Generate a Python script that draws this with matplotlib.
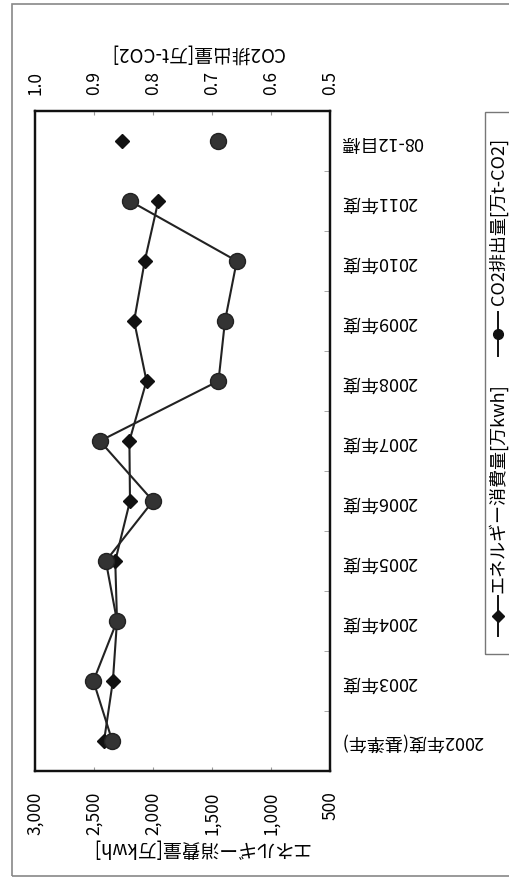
import numpy as np
import matplotlib
matplotlib.use('Agg')
import matplotlib.pyplot as plt
from matplotlib.lines import Line2D
from matplotlib.patches import Rectangle
from matplotlib.ticker import FuncFormatter, FixedLocator

plt.rcParams['font.family'] = ['Noto Sans CJK JP', 'DejaVu Sans']

# data
categories = ['2002年度(基準年)', '2003年度', '2004年度', '2005年度', '2006年度',
              '2007年度', '2008年度', '2009年度', '2010年度', '2011年度', '08-12目標']
energy = [2415, 2340, 2305, 2320, 2195, 2200, 2055, 2160, 2070, 1955, 2265]   # 万kwh
co2 = [0.869, 0.901, 0.861, 0.880, 0.800, 0.890, 0.689, 0.678, 0.658, 0.839, 0.689]  # 万t-CO2

energy_label = 'エネルギー消費量[万kwh]'
co2_label = 'CO2排出量[万t-CO2]'

W, H = 510, 879
fig = plt.figure(figsize=(W / 100, H / 100), dpi=100)

# helpers: pixel -> figure fraction
def fx(px):
    return px / W

def fy(py):
    return 1 - py / H

# the chart is a scan turned on its side, so categories run up the page
ax = fig.add_axes([fx(35), fy(772), fx(330) - fx(35), fy(112) - fy(772)])
ypos = np.arange(len(categories))
n = len(categories) - 1   # last one is the target, drawn without a line

ax.plot(energy[:n], ypos[:n], color='#222222', lw=1.5, marker='D', ms=7,
        mfc='#111111', mec='#111111', zorder=3)
ax.plot(energy[n:], ypos[n:], ls='none', marker='D', ms=7.5,
        mfc='#111111', mec='#111111', zorder=3)

ax2 = ax.twiny()
ax2.plot(co2[:n], ypos[:n], color='#222222', lw=1.5, marker='o', ms=11.5,
         mfc='#333333', mec='#222222', zorder=3)
ax2.plot(co2[n:], ypos[n:], ls='none', marker='o', ms=11.5,
         mfc='#333333', mec='#222222', zorder=3)

ax.set_xlim(3000, 500)
ax2.set_xlim(1.0, 0.5)
ax.set_ylim(-0.5, len(categories) - 0.5)

ax.set_xticks([3000, 2500, 2000, 1500, 1000, 500])
ax.xaxis.set_major_formatter(FuncFormatter(lambda v, p: '{:,.0f}'.format(v)))
ax2.set_xticks([1.0, 0.9, 0.8, 0.7, 0.6, 0.5])
ax2.xaxis.set_major_formatter(FuncFormatter(lambda v, p: '{:.1f}'.format(v)))

ax.tick_params(axis='x', direction='in', length=3, color='#999999', pad=14,
               labelsize=12.5, labelrotation=90)
for t in ax.get_xticklabels():
    t.set_va('top')
ax2.tick_params(axis='x', direction='in', length=3, color='#999999', pad=12,
                labelsize=12.5, labelrotation=90)

# category labels on the right, upside down like the scan
ax.yaxis.tick_right()
ax.set_yticks(ypos)
ax.set_yticklabels(categories)
ax.tick_params(axis='y', length=0, pad=8, labelsize=13)
for t in ax.get_yticklabels():
    t.set_rotation(180)
    t.set_ha('left')
    t.set_va('center')
ax.yaxis.set_minor_locator(FixedLocator(np.arange(-0.5, len(categories), 1)))
ax.tick_params(axis='y', which='minor', direction='in', length=4, color='#999999')

for a in (ax, ax2):
    for s in a.spines.values():
        s.set_linewidth(1.6)
        s.set_color('#111111')

# axis titles, upside down
fig.text(fx(197), fy(53), co2_label, rotation=180, ha='center', va='center', fontsize=13.5)
fig.text(fx(200), fy(848), energy_label, rotation=180, ha='center', va='center', fontsize=13.5)

# outer frame of the chart area
fig.add_artist(Rectangle((fx(12), fy(877)), fx(520) - fx(12), fy(5) - fy(877),
                         transform=fig.transFigure, fill=False, ec='#888888', lw=1.2))

# legend box, drawn by hand because it is rotated
fig.add_artist(Rectangle((fx(485), fy(655)), fx(530) - fx(485), fy(113) - fy(655),
                         transform=fig.transFigure, fill=False, ec='#777777', lw=1.0))
lx = fx(498)
fig.add_artist(Line2D([lx, lx], [fy(637), fy(597)], transform=fig.transFigure,
                      color='#111111', lw=1.4))
fig.add_artist(Line2D([lx], [fy(617)], transform=fig.transFigure, ls='none',
                      marker='D', ms=6, mfc='#111111', mec='#111111'))
fig.text(lx, fy(593), energy_label, rotation=90, ha='center', va='bottom', fontsize=13)
fig.add_artist(Line2D([lx, lx], [fy(357), fy(313)], transform=fig.transFigure,
                      color='#111111', lw=1.4))
fig.add_artist(Line2D([lx], [fy(335)], transform=fig.transFigure, ls='none',
                      marker='o', ms=7, mfc='#111111', mec='#111111'))
fig.text(lx, fy(305), co2_label, rotation=90, ha='center', va='bottom', fontsize=13)

fig.savefig('out.png', dpi=100)
